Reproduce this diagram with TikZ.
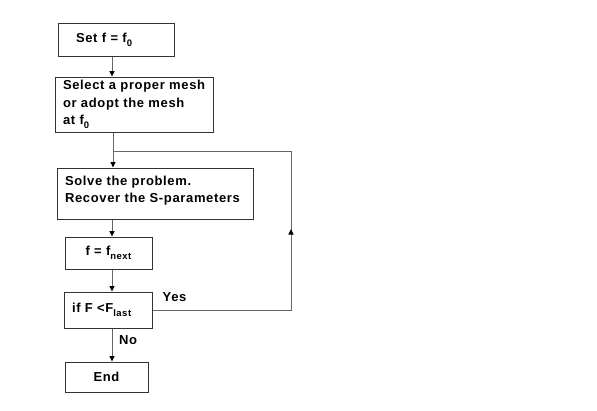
\documentclass[tikz,border=0pt]{standalone}
\usepackage{fontspec}
\setmainfont{Liberation Sans}[LetterSpace=5]
\usetikzlibrary{arrows.meta}
\newcommand\subx[1]{\raisebox{-0.3em}{\fontsize{9.5}{9.5}\selectfont #1}}
\begin{document}
\begin{tikzpicture}[x=1pt,y=-1pt,
  box/.style={draw=black!80, line width=1pt, rectangle, inner ysep=2pt,
    font=\fontsize{13}{17.5}\selectfont\bfseries},
  lbox/.style={box, align=left},
  conn/.style={draw=black!60, line width=1pt},
  arr/.style={conn, -{Triangle[length=5.5pt,width=5pt,color=black]}},
  lbl/.style={font=\fontsize{13}{14}\selectfont\bfseries}]
\useasboundingbox (0,0) rectangle (597,410);
\coordinate (col) at (112,0);
\node[lbox, minimum height=33pt, inner xsep=18pt, text width=80pt] (b1) at (116,39.5) {Set f = f\subx{0}};
\node[lbox, minimum height=55pt, inner xsep=8pt, text width=142pt] (b2) at (134,104.5) {\mbox{Select a proper mesh}\\or adopt the mesh\\at f\subx{0}};
\node[lbox, minimum height=51pt, inner xsep=8pt, text width=180pt] (b3) at (155,193.5) {Solve the problem.\\Recover the S-parameters\rule[-8pt]{0pt}{8pt}};
\node[box, minimum width=87pt, minimum height=32pt] (b4) at (108.5,253) {f = f\subx{next}};
\node[lbox, minimum height=36pt, inner xsep=8pt, text width=72pt] (b5) at (108,310) {\mbox{if F <F\subx{last}}};
\node[box, minimum width=83pt, minimum height=30pt] (b6) at (106.5,377) {End};
\coordinate (cj) at (113,151);
\coordinate (ct) at (291,151);
\coordinate (cm) at (291,229);
\draw[arr] (b1.south -| col) -- (b2.north -| col);
\draw[arr] (b2.south -| cj) -- (b3.north -| cj);
\draw[arr] (b3.south -| col) -- (b4.north -| col);
\draw[arr] (b4.south -| col) -- (b5.north -| col);
\draw[arr] (b5.south -| col) -- (b6.north -| col);
\node[lbl] (no) at (128,340) {No};
\draw[conn] (b5.east) -- (b5.east -| ct) -- (ct) -- (cj);
\draw[arr] (b5.east -| ct) -- (cm);
\node[lbl] (yes) at (174.5,297) {Yes};
\end{tikzpicture}
\end{document}
